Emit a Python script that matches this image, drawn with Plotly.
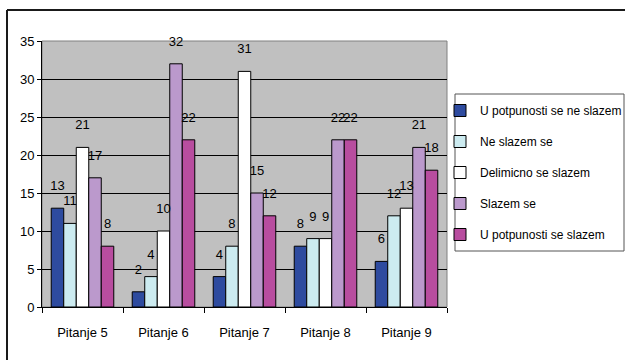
import plotly.graph_objects as go

# Survey answers per question
categories = ["Pitanje 5", "Pitanje 6", "Pitanje 7", "Pitanje 8", "Pitanje 9"]
series_names = [
    "U potpunosti se ne slazem",
    "Ne slazem se",
    "Delimicno se slazem",
    "Slazem se",
    "U potpunosti se slazem",
]
u_potpunosti_ne = [13, 2, 4, 8, 6]
ne_slazem = [11, 4, 8, 9, 12]
delimicno = [21, 10, 31, 9, 13]
slazem = [17, 32, 15, 22, 21]
u_potpunosti_da = [8, 22, 12, 22, 18]
y_ticks = [0, 5, 10, 15, 20, 25, 30, 35]

series_values = [u_potpunosti_ne, ne_slazem, delimicno, slazem, u_potpunosti_da]
colors = ["#2E4B9F", "#CCEBF0", "#FFFFFF", "#BB99CC", "#B84D9F"]

FONT = "Liberation Sans, Arial, sans-serif"
FS = 13
GAP = 0.228

# plot area in pixels: left 42, right 447, top 41, bottom 307
PW, PH = 405, 266


def px_x(p):
    return (p - 42) / PW


def px_y(p):
    return (307 - p) / PH


fig = go.Figure()

for i, (name, vals, col) in enumerate(zip(series_names, series_values, colors)):
    fig.add_trace(go.Bar(
        x=categories, y=vals, name=name,
        marker=dict(color=col, line=dict(color="#000000", width=1)),
        offsetgroup=str(i), legendgroup=str(i),
        hoverinfo="skip",
    ))

# value labels above each bar
for i, vals in enumerate(series_values):
    fig.add_trace(go.Scatter(
        x=categories, y=vals, mode="text+markers",
        text=[str(v) for v in vals], textposition="top center",
        textfont=dict(family=FONT, size=FS, color="#000000"),
        marker=dict(size=22, opacity=0),
        offsetgroup=str(i), showlegend=False, hoverinfo="skip",
        cliponaxis=False,
    ))

fig.update_layout(
    width=625, height=360,
    margin=dict(l=42, r=178, t=41, b=53, autoexpand=False),
    barmode="group", bargap=GAP, bargroupgap=0,
    scattermode="group", scattergap=GAP,
    plot_bgcolor="#C0C0C0", paper_bgcolor="#FFFFFF",
    font=dict(family=FONT, size=FS, color="#000000"),
    showlegend=True,
    legend=dict(
        x=px_x(440), y=px_y(96), xanchor="left", yanchor="top",
        bgcolor="rgba(0,0,0,0)", borderwidth=0,
        font=dict(family=FONT, size=12, color="#000000"),
        traceorder="grouped", tracegroupgap=12,
        itemclick=False, itemdoubleclick=False,
    ),
    xaxis=dict(
        type="category", showgrid=False, showline=True,
        linecolor="#000000", linewidth=1,
        ticks="outside", tickson="boundaries", ticklen=5,
        tickcolor="#000000", ticklabelstandoff=13,
        tickfont=dict(family=FONT, size=FS),
        fixedrange=True,
    ),
    yaxis=dict(
        range=[0, 35], tickvals=y_ticks, showgrid=True,
        gridcolor="#000000", gridwidth=1,
        showline=True, linecolor="#000000", linewidth=1,
        ticks="outside", ticklen=4, tickcolor="#000000",
        tickfont=dict(family=FONT, size=FS),
        zeroline=False, fixedrange=True,
    ),
    shapes=[
        # plot area frame on top and right
        dict(type="rect", xref="paper", yref="paper", x0=0, x1=1, y0=0, y1=1,
             line=dict(color="#808080", width=1), layer="between"),
        # legend frame
        dict(type="rect", xref="paper", yref="paper",
             x0=px_x(455), x1=px_x(624), y0=px_y(251), y1=px_y(94),
             fillcolor="#FFFFFF", line=dict(color="#555555", width=1)),
        # outer chart frame (top and left edges)
        dict(type="line", xref="paper", yref="paper",
             x0=px_x(7), x1=px_x(640), y0=px_y(10), y1=px_y(10),
             line=dict(color="#1A1A1A", width=2)),
        dict(type="line", xref="paper", yref="paper",
             x0=px_x(7), x1=px_x(7), y0=px_y(370), y1=px_y(10),
             line=dict(color="#1A1A1A", width=2)),
    ],
)

fig.write_html("out.html")
